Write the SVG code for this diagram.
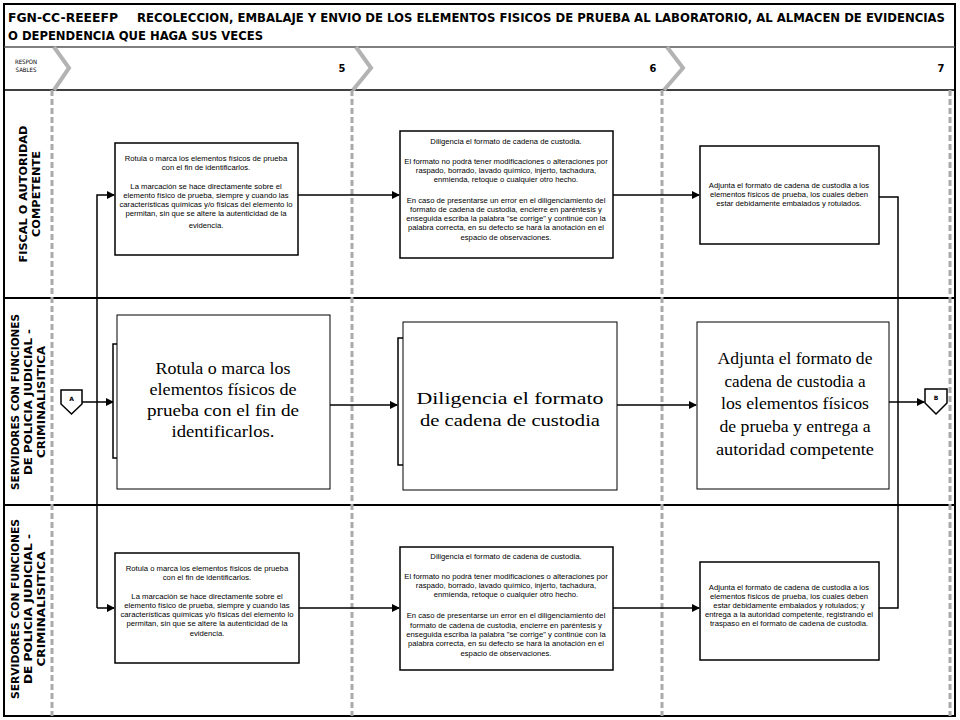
<svg xmlns="http://www.w3.org/2000/svg" width="960" height="720" viewBox="0 0 960 720">
<style>
.title{font-family:"DejaVu Sans Condensed","DejaVu Sans",sans-serif;font-weight:bold;font-size:13px;fill:#000}
.lane{font-family:"DejaVu Sans Condensed","DejaVu Sans",sans-serif;font-weight:bold;font-size:10px;fill:#000}
.small{font-family:"Liberation Sans",Arial,sans-serif;font-size:7.7px;fill:#000}
.big{font-family:"Liberation Serif","Times New Roman",serif;font-size:17px;fill:#000}
.num{font-family:"DejaVu Sans Condensed","DejaVu Sans",sans-serif;font-weight:bold;font-size:11px;fill:#000}
.box{fill:#fff;stroke:#000;stroke-width:1.5}
.bigbox{fill:#fff;stroke:#000;stroke-width:1}
.conn{fill:none;stroke:#000;stroke-width:1.5}
.dash{stroke:#aaa;stroke-width:3;stroke-dasharray:6 3;fill:none}
.chev{fill:none;stroke:#b3b3b3;stroke-width:4}
</style>
<defs>
<marker id="ah" markerWidth="8" markerHeight="8" refX="7" refY="4" orient="auto" markerUnits="userSpaceOnUse">
<path d="M0,0 L8,4 L0,8 z" fill="#000"/>
</marker>
</defs>
<rect x="0" y="0" width="960" height="720" fill="#fff"/>
<g id="frame">
<rect x="4" y="4" width="951" height="712" fill="none" stroke="#000" stroke-width="2"/>
<line x1="4" y1="47" x2="955" y2="47" stroke="#555" stroke-width="1.5"/>
<line x1="4" y1="90" x2="955" y2="90" stroke="#000" stroke-width="1.5"/>
<line x1="4" y1="298" x2="955" y2="298" stroke="#000" stroke-width="2"/>
<line x1="4" y1="505" x2="955" y2="505" stroke="#000" stroke-width="2"/>
<line class="dash" x1="52" y1="90" x2="52" y2="716"/>
<line class="dash" x1="352" y1="90" x2="352" y2="716"/>
<line class="dash" x1="662" y1="90" x2="662" y2="716"/>
<line class="dash" x1="950" y1="90" x2="950" y2="716"/>
<polyline class="chev" points="54,47 69,68 54,90"/>
<polyline class="chev" points="356,47 371,68 353,90"/>
<polyline class="chev" points="667,47 683,68 664,90"/>
</g>
<g id="header">
<text class="title" x="8" y="22" textLength="110" lengthAdjust="spacingAndGlyphs">FGN-CC-REEEFP</text>
<text class="title" x="137" y="22" textLength="808" lengthAdjust="spacingAndGlyphs">RECOLECCION, EMBALAJE Y ENVIO DE LOS ELEMENTOS FISICOS DE PRUEBA AL LABORATORIO, AL ALMACEN DE EVIDENCIAS</text>
<text class="title" x="8" y="40" textLength="255" lengthAdjust="spacingAndGlyphs">O DEPENDENCIA QUE HAGA SUS VECES</text>
<text x="26" y="64" font-family="DejaVu Sans Condensed, DejaVu Sans, sans-serif" font-size="6" text-anchor="middle">RESPON</text>
<text x="26" y="72" font-family="DejaVu Sans Condensed, DejaVu Sans, sans-serif" font-size="6" text-anchor="middle">SABLES</text>
<text class="num" x="342" y="72" text-anchor="middle">5</text>
<text class="num" x="653" y="72" text-anchor="middle">6</text>
<text class="num" x="941" y="72" text-anchor="middle">7</text>
</g>
<g id="lane-labels">
<text class="lane" text-anchor="middle" transform="translate(27,194) rotate(-90)" textLength="137" lengthAdjust="spacingAndGlyphs">FISCAL O AUTORIDAD</text>
<text class="lane" text-anchor="middle" transform="translate(40,194) rotate(-90)" textLength="86" lengthAdjust="spacingAndGlyphs">COMPETENTE</text>
<text class="lane" text-anchor="middle" transform="translate(19,402) rotate(-90)" textLength="176" lengthAdjust="spacingAndGlyphs">SERVIDORES CON FUNCIONES</text>
<text class="lane" text-anchor="middle" transform="translate(32,402) rotate(-90)" textLength="146" lengthAdjust="spacingAndGlyphs">DE POLICIA JUDICIAL -</text>
<text class="lane" text-anchor="middle" transform="translate(45,402) rotate(-90)" textLength="112" lengthAdjust="spacingAndGlyphs">CRIMINALISITICA</text>
<text class="lane" text-anchor="middle" transform="translate(19,609) rotate(-90)" textLength="180" lengthAdjust="spacingAndGlyphs">SERVIDORES CON FUNCIONES</text>
<text class="lane" text-anchor="middle" transform="translate(32,609) rotate(-90)" textLength="150" lengthAdjust="spacingAndGlyphs">DE POLICIA JUDICIAL -</text>
<text class="lane" text-anchor="middle" transform="translate(45,609) rotate(-90)" textLength="115" lengthAdjust="spacingAndGlyphs">CRIMINALISITICA</text>
</g>
<g id="connectors">
<polyline class="conn" points="97,608 97,195 114,195" marker-end="url(#ah)"/>
<line class="conn" x1="97" y1="608" x2="114" y2="608" marker-end="url(#ah)"/>
<line class="conn" x1="298" y1="195" x2="399" y2="195" marker-end="url(#ah)"/>
<line class="conn" x1="613" y1="195" x2="699" y2="195" marker-end="url(#ah)"/>
<line class="conn" x1="299" y1="608" x2="399" y2="608" marker-end="url(#ah)"/>
<line class="conn" x1="613" y1="608" x2="699" y2="608" marker-end="url(#ah)"/>
<polyline class="conn" points="879,197 898,197 898,608 879,608"/>
<line class="conn" x1="82" y1="402" x2="113" y2="402" marker-end="url(#ah)"/>
<line class="conn" x1="330" y1="405" x2="397" y2="405" marker-end="url(#ah)"/>
<line class="conn" x1="617" y1="405" x2="696" y2="405" marker-end="url(#ah)"/>
<line class="conn" x1="889" y1="402" x2="924" y2="402" marker-end="url(#ah)"/>
</g>
<g id="top-1">
<rect class="box" x="115" y="143" width="183" height="112"/>
<g class="small" text-anchor="middle">
<text x="206" y="161">Rotula o marca  los elementos físicos  de prueba</text>
<text x="206" y="170">con el fin de identificarlos.</text>
<text x="206" y="189">La marcación  se hace directamente sobre el</text>
<text x="206" y="198">elemento físico de prueba, siempre y cuando las</text>
<text x="206" y="207">características químicas y/o físicas del elemento lo</text>
<text x="206" y="216">permitan, sin que se altere la autenticidad de la</text>
<text x="206" y="228">evidencia.</text>
</g>
</g>
<g id="top-2">
<rect class="box" x="400" y="131" width="213" height="127"/>
<g class="small" text-anchor="middle">
<text x="506" y="144">Diligencia el formato de cadena de custodia.</text>
<text x="506" y="164">El formato no podrá tener modificaciones o alteraciones por</text>
<text x="506" y="173">raspado, borrado, lavado químico, injerto, tachadura,</text>
<text x="506" y="182">enmienda, retoque o cualquier otro hecho.</text>
<text x="506" y="203">En caso de presentarse un error en el diligenciamiento del</text>
<text x="506" y="212">formato de cadena de custodia, encierre en paréntesis y</text>
<text x="506" y="221">enseguida  escriba la palabra "se corrige" y continúe con la</text>
<text x="506" y="230">palabra correcta, en su defecto se hará la anotación en el</text>
<text x="506" y="240">espacio de observaciones.</text>
</g>
</g>
<g id="top-3">
<rect class="box" x="700" y="146" width="179" height="98"/>
<g class="small" text-anchor="middle">
<text x="789" y="188">Adjunta el formato de cadena de custodia a los</text>
<text x="789" y="197">elementos físicos de prueba, los cuales deben</text>
<text x="789" y="206">estar debidamente embalados y rotulados.</text>
</g>
</g>
<g id="connector-A">
<polygon points="61,390 82,390 82,404 71.5,414 61,404" fill="#fff" stroke="#000" stroke-width="1.5"/>
<text x="71.5" y="401" font-family="DejaVu Sans, sans-serif" font-weight="bold" font-size="6" text-anchor="middle">A</text>
</g>
<g id="mid-1">
<rect x="113" y="344" width="150" height="114" fill="#fff" stroke="#000" stroke-width="1.5"/>
<rect class="bigbox" x="117" y="315" width="213" height="174"/>
<g class="big" text-anchor="middle">
<text x="223" y="374" textLength="135" lengthAdjust="spacingAndGlyphs">Rotula o marca los</text>
<text x="223" y="395" textLength="147" lengthAdjust="spacingAndGlyphs">elementos físicos de</text>
<text x="223" y="416" textLength="152" lengthAdjust="spacingAndGlyphs">prueba con el fin de</text>
<text x="223" y="437" textLength="103" lengthAdjust="spacingAndGlyphs">identificarlos.</text>
</g>
</g>
<g id="mid-2">
<rect x="398" y="338" width="150" height="127" fill="#fff" stroke="#000" stroke-width="1.5"/>
<rect class="bigbox" x="403" y="322" width="214" height="168"/>
<g class="big" text-anchor="middle" font-size="19.5">
<text x="510" y="404" textLength="187" lengthAdjust="spacingAndGlyphs">Diligencia el formato</text>
<text x="510" y="426" textLength="180" lengthAdjust="spacingAndGlyphs">de cadena de custodia</text>
</g>
</g>
<g id="mid-3">
<rect class="bigbox" x="697" y="322" width="192" height="167"/>
<g class="big" text-anchor="middle">
<text x="795" y="364" textLength="155" lengthAdjust="spacingAndGlyphs">Adjunta el formato de</text>
<text x="795" y="387" textLength="141" lengthAdjust="spacingAndGlyphs">cadena de custodia a</text>
<text x="795" y="409" textLength="148" lengthAdjust="spacingAndGlyphs">los elementos físicos</text>
<text x="795" y="432" textLength="151" lengthAdjust="spacingAndGlyphs">de prueba y entrega a</text>
<text x="795" y="455" textLength="158" lengthAdjust="spacingAndGlyphs">autoridad competente</text>
</g>
</g>
<g id="connector-B">
<polygon points="925,389 947,389 947,403 936,414 925,403" fill="#fff" stroke="#000" stroke-width="1.5"/>
<text x="936" y="400" font-family="DejaVu Sans, sans-serif" font-weight="bold" font-size="6" text-anchor="middle">B</text>
</g>
<g id="bot-1">
<rect class="box" x="115" y="553" width="184" height="110"/>
<g class="small" text-anchor="middle">
<text x="207" y="571">Rotula o marca  los elementos físicos  de prueba</text>
<text x="207" y="580">con el fin de identificarlos.</text>
<text x="207" y="599">La marcación  se hace directamente sobre el</text>
<text x="207" y="608">elemento físico de prueba, siempre y cuando las</text>
<text x="207" y="617">características químicas y/o físicas del elemento lo</text>
<text x="207" y="626">permitan, sin que se altere la autenticidad de la</text>
<text x="207" y="636">evidencia.</text>
</g>
</g>
<g id="bot-2">
<rect class="box" x="400" y="547" width="213" height="123"/>
<g class="small" text-anchor="middle">
<text x="506" y="559">Diligencia el formato de cadena de custodia.</text>
<text x="506" y="579">El formato no podrá tener modificaciones o alteraciones por</text>
<text x="506" y="588">raspado, borrado, lavado químico, injerto, tachadura,</text>
<text x="506" y="597">enmienda, retoque o cualquier otro hecho.</text>
<text x="506" y="618">En caso de presentarse un error en el diligenciamiento del</text>
<text x="506" y="628">formato de cadena de custodia, encierre en paréntesis y</text>
<text x="506" y="637">enseguida  escriba la palabra "se corrige" y continúe con la</text>
<text x="506" y="646">palabra correcta, en su defecto se hará la anotación en el</text>
<text x="506" y="656">espacio de observaciones.</text>
</g>
</g>
<g id="bot-3">
<rect class="box" x="700" y="562" width="179" height="98"/>
<g class="small" text-anchor="middle">
<text x="789" y="590">Adjunta el formato de cadena de custodia a los</text>
<text x="789" y="599">elementos físicos de prueba, los cuales deben</text>
<text x="789" y="608">estar debidamente embalados y rotulados; y</text>
<text x="789" y="617">entrega a la autoridad competente, registrando el</text>
<text x="789" y="626">traspaso  en el  formato  de cadena de custodia.</text>
</g>
</g>
</svg>
